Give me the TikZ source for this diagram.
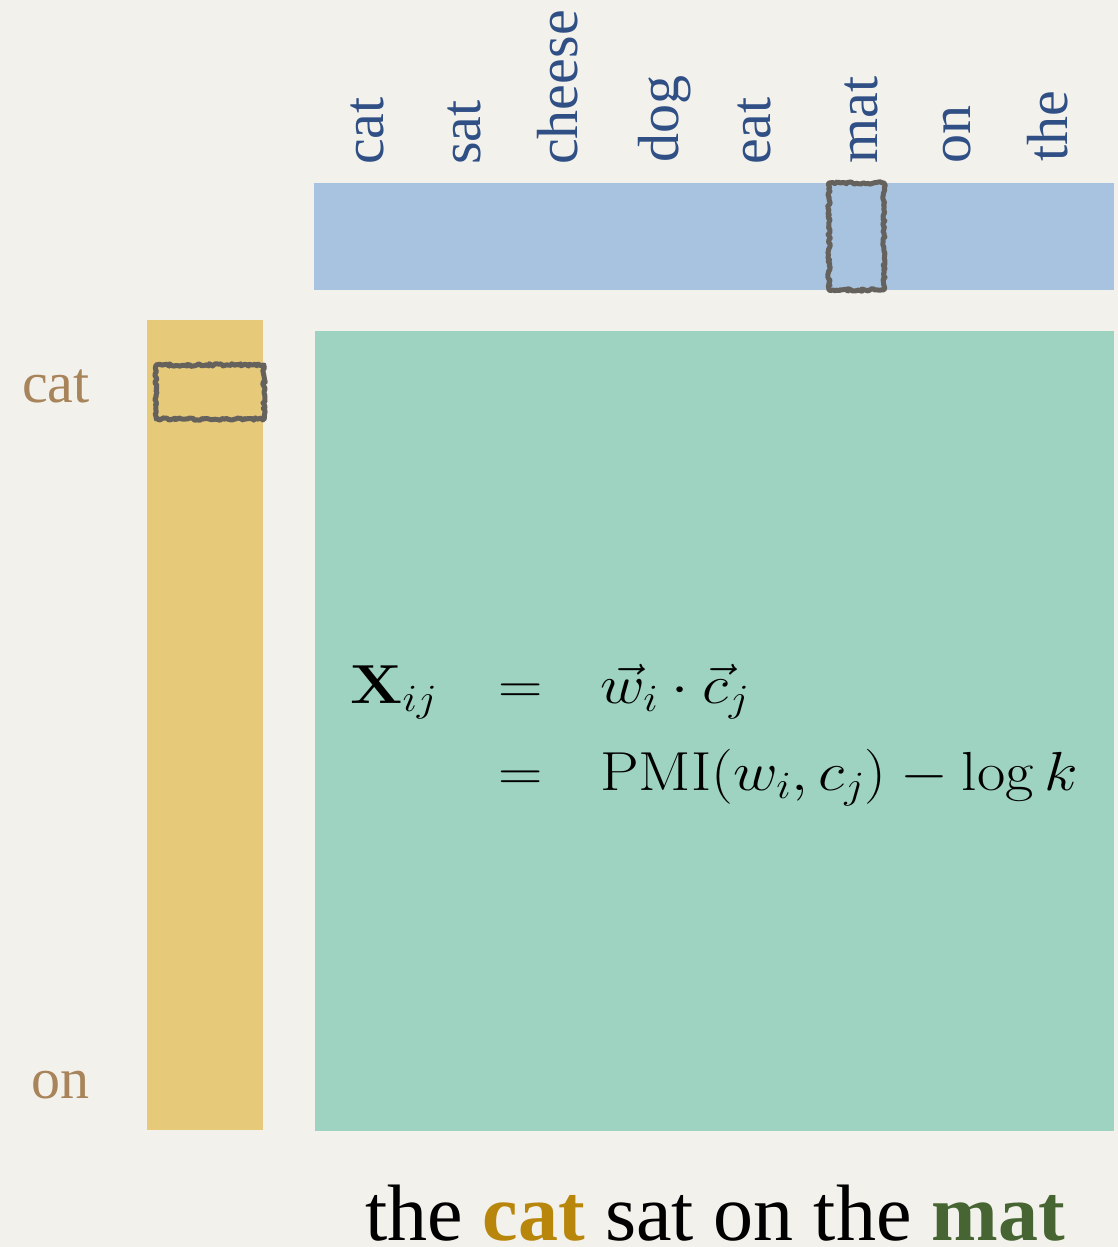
\RequirePackage{fix-cm}
\documentclass[tikz,border=0pt]{standalone}
\usepackage{amsmath}
\usepackage[no-math]{fontspec}
\setmainfont{Liberation Serif}
\usetikzlibrary{decorations.pathmorphing}
\definecolor{bgc}{HTML}{F3F1EC}
\definecolor{barblue}{HTML}{A8C3E0}
\definecolor{baryellow}{HTML}{E6CA7A}
\definecolor{bargreen}{HTML}{9DD3C0}
\definecolor{labblue}{HTML}{2F4F85}
\definecolor{labbrown}{HTML}{A8845A}
\definecolor{catc}{HTML}{B8860B}
\definecolor{matc}{HTML}{466533}
\definecolor{sketchc}{HTML}{65625E}
\tikzset{
  bar/.style={inner sep=0pt, outer sep=0pt, anchor=north west, draw=none},
  toplab/.style={rotate=90, anchor=base west, inner sep=0pt, text=labblue, font=\fontsize{58}{60}\selectfont},
  leftlab/.style={anchor=base east, inner sep=0pt, text=labbrown, font=\fontsize{58}{60}\selectfont},
  eq/.style={anchor=base west, inner sep=0pt, xscale=1.12, font=\fontsize{55}{60}\selectfont},
  sketch/.style={draw=sketchc, line width=5pt, line join=round,
    decorate, decoration={random steps, segment length=2pt, amplitude=1.3pt}},
}
\begin{document}
\begin{tikzpicture}[x=1pt, y=-1pt]
\fill[bgc] (0,0) rectangle (1118,1247);
\useasboundingbox (0,0) rectangle (1118,1247);
% bars
\node[bar, fill=barblue, minimum width=800pt, minimum height=107pt] (blue) at (314,183) {};
\node[bar, fill=baryellow, minimum width=116pt, minimum height=810pt] (yellow) at (147,320) {};
\node[bar, fill=bargreen, minimum width=799pt, minimum height=800pt] (green) at (315,331) {};
% sketch boxes
\draw[sketch] (829,183) rectangle (884,290);
\draw[sketch] (156,365) rectangle (264,419);
% top labels
\node[toplab] (tcat) at (383,165) {cat};
\node[toplab] (tsat) at (480,165) {sat};
\node[toplab] (tcheese) at (577,165) {cheese};
\node[toplab] (tdog) at (678,163) {dog};
\node[toplab] (teat) at (770,165) {eat};
\node[toplab] (tmat) at (877,164) {mat};
\node[toplab] (ton) at (970,164) {on};
\node[toplab] (tthe) at (1067,162) {the};
% left labels
\node[leftlab] (lcat) at (90,402) {cat};
\node[leftlab] (lon) at (90,1098) {on};
% equation
\node[eq] (X) at (350,703) {$\mathbf{X}_{ij}$};
\node[eq] (eq1) at (498,703) {$=$};
\node[eq] (r1) at (600,703) {$\vec{w}_i\cdot\vec{c}_j$};
\node[eq] (eq2) at (498,790) {$=$};
\node[eq] (r2) at (600,790) {$\mathrm{PMI}(w_i,c_j)-\log k$};
% sentence
\node[anchor=base west, inner sep=0pt, font=\fontsize{80}{90}\selectfont] (sent) at (365,1240)
  {the \textcolor{catc}{\textbf{cat}} sat on the \textcolor{matc}{\textbf{mat}}};
\end{tikzpicture}
\end{document}
